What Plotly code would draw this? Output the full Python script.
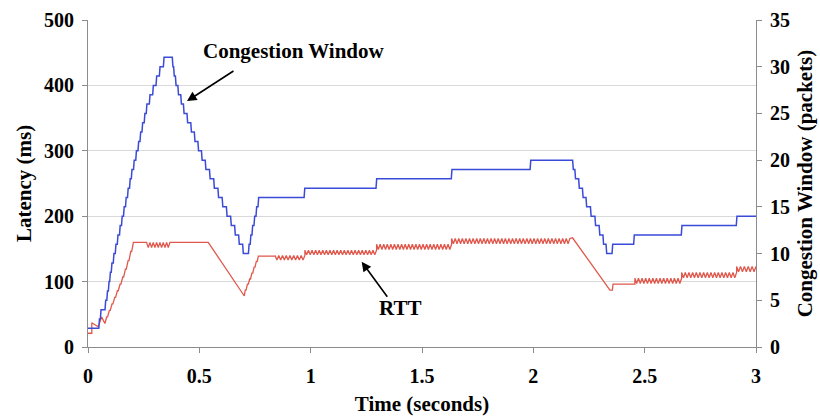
import plotly.graph_objects as go

# ---------------- data ----------------
# Congestion window (packets): times at which the window changes, and new value
cwnd_t = [0.000, 0.050, 0.057, 0.078, 0.086, 0.093, 0.099, 0.106, 0.115, 0.124, 0.133,
          0.143, 0.152, 0.161, 0.170, 0.179, 0.188, 0.196, 0.206, 0.216, 0.226,
          0.235, 0.244, 0.254, 0.263, 0.277, 0.292, 0.307, 0.322, 0.340, 0.362,
          0.380, 0.386, 0.394, 0.405, 0.418, 0.430, 0.446, 0.463, 0.479, 0.495,
          0.511, 0.528, 0.547, 0.566, 0.585, 0.604, 0.623, 0.642, 0.660, 0.678,
          0.696, 0.722, 0.730, 0.738, 0.747, 0.756, 0.765, 0.972, 1.295, 1.633,
          1.987, 2.178, 2.188, 2.205, 2.222, 2.238, 2.258, 2.278, 2.297, 2.314,
          2.328, 2.355, 2.452, 2.666, 2.913, 3.000]
cwnd_v = [2, 3, 4, 5, 6, 7, 8, 9, 10, 11, 12,
          13, 14, 15, 16, 17, 18, 19, 20, 21, 22,
          23, 24, 25, 26, 27, 28, 29, 30, 31, 31,
          30, 29, 28, 27, 26, 25, 24, 23, 22, 21,
          20, 19, 18, 17, 16, 15, 14, 13, 12, 11,
          10, 11, 12, 13, 14, 15, 16, 17, 18, 19,
          20, 19, 18, 17, 16, 15, 14, 13, 12, 11,
          10, 11, 12, 13, 14, 14]

# RTT (ms): plain knots of the line
rtt_knots_a_t = [0.000, 0.017, 0.017, 0.046, 0.061, 0.076, 0.084, 0.088, 0.096, 0.100,
                 0.108, 0.112, 0.120, 0.124, 0.132, 0.136, 0.144, 0.148, 0.156, 0.160,
                 0.168, 0.172, 0.180, 0.184, 0.192, 0.196, 0.204, 0.263]
rtt_knots_a_v = [21, 21, 37, 31, 46, 36, 46, 46, 56, 56,
                 66, 66, 76, 76, 86, 86, 96, 96, 107, 107,
                 119, 119, 132, 132, 146, 146, 160, 160]
rtt_knots_b_t = [0.368, 0.540, 0.702, 0.706, 0.710, 0.716, 0.720, 0.726, 0.730, 0.736,
                 0.740, 0.746, 0.750, 0.756, 0.760, 0.765, 0.840]
rtt_knots_b_v = [160, 160, 78, 87, 87, 96, 96, 104, 104, 113,
                 113, 122, 122, 131, 131, 139, 139]
rtt_knots_c_t = [2.176, 2.344, 2.355, 2.358, 2.456]
rtt_knots_c_v = [167, 87, 87, 96, 96]

# RTT oscillating stretches: start, end, upper level, lower level, number of teeth
saw_start = [0.263, 0.840, 0.974, 1.296, 1.633, 2.456, 2.666, 2.913]
saw_end   = [0.368, 0.974, 1.296, 1.633, 2.164, 2.666, 2.913, 3.000]
saw_high  = [160, 140, 148, 157, 166, 105, 114, 123]
saw_low   = [152, 133, 141, 149, 158, 97, 106, 115]
saw_teeth = [7, 8, 20, 21, 33, 13, 15, 5]

x_ticks = [0, 0.5, 1, 1.5, 2, 2.5, 3]
x_tick_text = ["0", "0.5", "1", "1.5", "2", "2.5", "3"]

# ---------------- build RTT path ----------------
def saw(i):
    n = saw_teeth[i]
    ts, vs = [], []
    for k in range(2 * n + 1):
        ts.append(saw_start[i] + k * (saw_end[i] - saw_start[i]) / (2 * n))
        vs.append(saw_high[i] if k % 2 == 0 else saw_low[i])
    return ts, vs

rtt_t, rtt_v = list(rtt_knots_a_t), list(rtt_knots_a_v)
t, v = saw(0); rtt_t += t; rtt_v += v
rtt_t += rtt_knots_b_t; rtt_v += rtt_knots_b_v
for i in (1, 2, 3, 4):
    t, v = saw(i); rtt_t += t; rtt_v += v
rtt_t += rtt_knots_c_t; rtt_v += rtt_knots_c_v
for i in (5, 6, 7):
    t, v = saw(i); rtt_t += t; rtt_v += v

# ---------------- build window path (slightly slanted risers) ----------------
RISE = 0.003
win_t, win_v = [cwnd_t[0]], [cwnd_v[0]]
for i in range(1, len(cwnd_t)):
    if cwnd_v[i] != cwnd_v[i - 1]:
        win_t += [cwnd_t[i] - RISE / 2, cwnd_t[i] + RISE / 2]
        win_v += [cwnd_v[i - 1], cwnd_v[i]]
    else:
        win_t.append(cwnd_t[i]); win_v.append(cwnd_v[i])

# ---------------- figure ----------------
FONT = "Liberation Serif, Times New Roman, serif"
BLUE = "#3a4bd8"
RED = "#e0584c"
AXC = "#8c8c8c"

fig = go.Figure()
fig.add_trace(go.Scatter(x=rtt_t, y=rtt_v, mode="lines", name="RTT",
                         line=dict(color=RED, width=1.3), yaxis="y"))
fig.add_trace(go.Scatter(x=win_t, y=win_v, mode="lines", name="Congestion Window",
                         line=dict(color=BLUE, width=1.5), yaxis="y2"))

tickfont = dict(family=FONT, size=20, color="black", weight="bold")
titlefont = dict(family=FONT, size=21, color="black", weight="bold")

fig.update_layout(
    width=820, height=417,
    margin=dict(l=88, r=64, t=20, b=70, autoexpand=False),
    paper_bgcolor="white", plot_bgcolor="white",
    showlegend=False,
    xaxis=dict(range=[0, 3], tickvals=x_ticks, ticktext=x_tick_text,
               ticks="outside", ticklen=5, tickcolor=AXC, tickwidth=1,
               ticklabelstandoff=6, automargin=False,
               showline=True, linecolor=AXC, linewidth=1,
               showgrid=False, zeroline=False, tickfont=tickfont,
               title=dict(text="Time (seconds)", font=titlefont, standoff=10)),
    yaxis=dict(range=[0, 500], dtick=100, ticks="outside", ticklen=5,
               tickcolor=AXC, showline=True, linecolor=AXC, linewidth=1,
               ticklabelstandoff=4, automargin=False,
               showgrid=True, gridcolor="#d9d9d9", gridwidth=1, zeroline=False,
               tickfont=tickfont,
               title=dict(text="Latency (ms)", font=titlefont, standoff=6)),
    yaxis2=dict(range=[0, 35], dtick=5, overlaying="y", side="right",
                ticks="outside", ticklen=5, tickcolor=AXC,
                ticklabelstandoff=4, automargin=False,
                showline=True, linecolor=AXC, linewidth=1,
                showgrid=False, zeroline=False, tickfont=tickfont,
                title=dict(text="Congestion Window (packets)", font=titlefont, standoff=8)),
)

# arrows (data coordinates on x / left y)
fig.add_annotation(x=0.4446, y=376, ax=0.660, ay=423.5, xref="x", yref="y",
                   axref="x", ayref="y", text="", showarrow=True,
                   arrowhead=2, arrowsize=1.2, arrowwidth=1.6, arrowcolor="black")
fig.add_annotation(x=0.925, y=452.6, xref="x", yref="y", text="Congestion Window",
                   showarrow=False, font=dict(family=FONT, size=21, color="black", weight="bold"))
fig.add_annotation(x=1.229, y=130.4, ax=1.349, ay=74.5, xref="x", yref="y",
                   axref="x", ayref="y", text="", showarrow=True,
                   arrowhead=2, arrowsize=1.2, arrowwidth=1.6, arrowcolor="black")
fig.add_annotation(x=1.401, y=59.6, xref="x", yref="y", text="RTT",
                   showarrow=False, font=dict(family=FONT, size=21, color="black", weight="bold"))

fig.write_html("out.html")
